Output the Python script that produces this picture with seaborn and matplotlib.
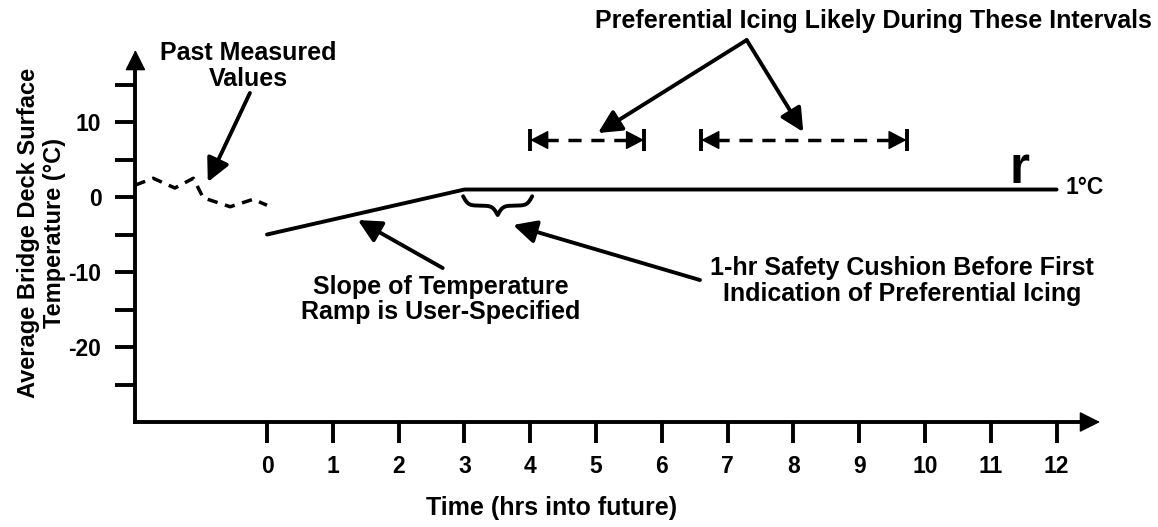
import numpy as np
import pandas as pd
import matplotlib
matplotlib.use("Agg")
import matplotlib.pyplot as plt
import seaborn as sns

# ---------------- data ----------------
past_time = [-2.0, -1.73, -1.40, -1.12, -0.97, -0.56, -0.21, 0.0]
past_temp = [1.6, 2.5, 1.2, 2.5, -0.1, -1.3, -0.3, -1.1]
ramp_time = [0, 3, 12]
ramp_temp = [-5, 1, 1]
x_ticks = list(range(0, 13))
y_ticks = [-25, -20, -15, -10, -5, 0, 5, 10, 15]
y_tick_labels = ["", "-20", "", "-10", "", "0", "", "10", ""]
cushion_start, cushion_end = 3, 4
icing_intervals = [(4.0, 5.73), (6.6, 9.72)]
icing_level = 7.6
threshold_label = "1°C"

# ---------------- style ----------------
sns.set_theme(style="white")
plt.rcParams["font.family"] = ["Liberation Sans", "DejaVu Sans"]
plt.rcParams["font.weight"] = "bold"
plt.rcParams["axes.labelweight"] = "bold"
for k in ["text.color", "axes.labelcolor", "xtick.color", "ytick.color",
          "axes.edgecolor"]:
    plt.rcParams[k] = "black"

fig = plt.figure(figsize=(11.58, 5.27), dpi=100)
ax = fig.add_axes([0, 0, 1, 1])
ax.set_facecolor("white")

LW = 2.8
FS = 18
sns.lineplot(x=past_time, y=past_temp, ax=ax, color="black", lw=2.5,
             linestyle=(0, (3, 2.2)))
sns.lineplot(x=ramp_time, y=ramp_temp, ax=ax, color="black", lw=LW)

ax.set_xlim(-4.058, 13.541)
ax.set_ylim(-44.0, 26.27)

# axes as arrows
for s in ["top", "right"]:
    ax.spines[s].set_visible(False)
ax.spines["left"].set_position(("data", -2))
ax.spines["bottom"].set_position(("data", -30))
ax.spines["left"].set_bounds(-30, 18.0)
ax.spines["bottom"].set_bounds(-2, 12.4)
for s in ["left", "bottom"]:
    ax.spines[s].set_linewidth(LW)
    ax.spines[s].set_color("black")

ax.set_xticks(x_ticks)
ax.set_xticklabels([str(v) for v in x_ticks])
ax.set_yticks(y_ticks)
ax.set_yticklabels(y_tick_labels)
ax.tick_params(axis="x", direction="out", length=15, width=LW, pad=9,
               labelsize=16.5, colors="black", bottom=True)
ax.tick_params(axis="y", direction="out", length=14.5, width=LW, pad=10,
               labelsize=16.5, colors="black", left=True)
ax.set_xlabel("")
ax.set_ylabel("")

ax_arrow = dict(arrowstyle="-|>,head_length=1.3,head_width=0.65", lw=1,
                color="black", mutation_scale=10, shrinkA=0, shrinkB=0)
ax.annotate("", xy=(-2, 19.6), xytext=(-2, 16.0), arrowprops=ax_arrow)
ax.annotate("", xy=(12.66, -30), xytext=(12.2, -30), arrowprops=ax_arrow)

# axis titles
ax.text(4.33, -41.5, "Time (hrs into future)", ha="center", va="center",
        fontsize=FS, fontweight="bold")
ax.text(-3.43, -4.8, "Average Bridge Deck Surface\nTemperature (°C)",
        ha="center", va="center", rotation=90, fontsize=17,
        fontweight="bold", multialignment="center", linespacing=1.2)

# annotations
arr = dict(arrowstyle="-|>,head_length=1.4,head_width=0.7", lw=LW,
           color="black", mutation_scale=10, shrinkA=0, shrinkB=0)

ax.text(-0.29, 17.47, "Past Measured\nValues", ha="center", va="center",
        fontsize=FS, fontweight="bold", multialignment="center",
        linespacing=1.1)
ax.annotate("", xy=(-0.90, 2.0), xytext=(-0.26, 13.87), arrowprops=arr)

ax.text(9.21, 23.47, "Preferential Icing Likely During These Intervals",
        ha="center", va="center", fontsize=FS, fontweight="bold")
ax.annotate("", xy=(5.03, 8.53), xytext=(7.29, 20.93), arrowprops=arr)
ax.annotate("", xy=(8.15, 8.67), xytext=(7.29, 20.93), arrowprops=arr)

ax.text(2.64, -13.67, "Slope of Temperature\nRamp is User-Specified",
        ha="center", va="center", fontsize=FS, fontweight="bold",
        multialignment="center", linespacing=1.02)
ax.annotate("", xy=(1.38, -3.07), xytext=(2.67, -9.47), arrowprops=arr)

ax.text(9.65, -11.2,
        "1-hr Safety Cushion Before First\nIndication of Preferential Icing",
        ha="center", va="center", fontsize=FS, fontweight="bold",
        multialignment="center", linespacing=1.1)
ax.annotate("", xy=(3.74, -3.73), xytext=(6.58, -11.07), arrowprops=arr)

# icing intervals: |<- - - ->|
head = dict(arrowstyle="-|>,head_length=1.15,head_width=0.6", lw=1,
            color="black", mutation_scale=10, shrinkA=0, shrinkB=0)
for x0, x1 in icing_intervals:
    ax.plot([x0 + 0.22, x1 - 0.22], [icing_level, icing_level], color="black",
            lw=2.5, linestyle=(0, (3.8, 2.8)))
    ax.vlines([x0, x1], icing_level - 1.45, icing_level + 1.45,
              color="black", lw=LW)
    ax.annotate("", xy=(x0, icing_level), xytext=(x0 + 0.3, icing_level),
                arrowprops=head)
    ax.annotate("", xy=(x1, icing_level), xytext=(x1 - 0.3, icing_level),
                arrowprops=head)

# curly brace under the cushion hour
def brace_curve(xa, xb, y_top, depth, beta=26, n=301):
    xs = np.linspace(xa, xb, n)
    half = xs[: n // 2 + 1]
    yh = (1 / (1 + np.exp(-beta * (half - half[0])))
          + 1 / (1 + np.exp(-beta * (half - half[-1]))))
    yy = np.concatenate((yh, yh[-2::-1]))
    return xs, y_top - (yy - 0.5) * depth

bx, by = brace_curve(cushion_start - 0.02, cushion_end + 0.03, 0.1, 2.5)
ax.plot(bx, by, color="black", lw=2.8, solid_capstyle="round")

# threshold label and stray glyph
ax.text(11.44, 1.87, "r", ha="center", va="baseline", fontsize=37,
        fontweight="bold")
ax.text(12.43, 1.33, threshold_label, ha="center", va="center",
        fontsize=16.5, fontweight="bold")

fig.savefig("out.png", dpi=100, facecolor="white")
